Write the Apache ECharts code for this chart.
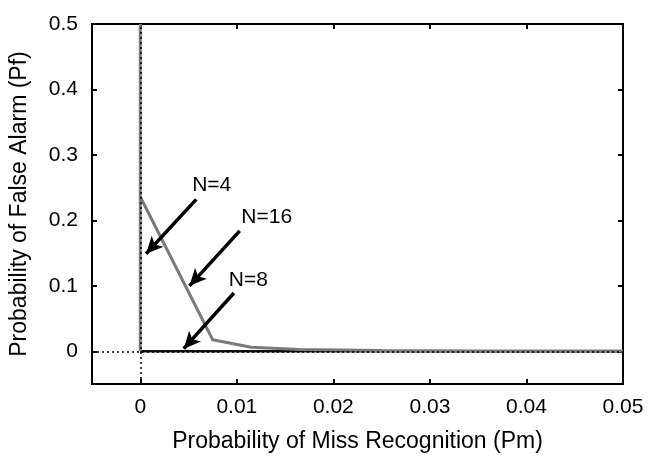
<!DOCTYPE html>
<html><head><meta charset="utf-8">
<script src="https://cdn.jsdelivr.net/npm/echarts@6/dist/echarts.min.js"></script>
<style>html,body{margin:0;padding:0;background:#fff}#c{width:652px;height:458px}</style>
</head><body><div id="c"></div>
<script>
var xTicks = [0, 0.01, 0.02, 0.03, 0.04, 0.05];
var yTicks = [0, 0.1, 0.2, 0.3, 0.4, 0.5];
var n4 = [[0, 0], [0, 0.5]];
var n16 = [[0, 0.236], [0.0075, 0.0176], [0.0115, 0.006], [0.0165, 0.0027], [0.025, 0.0012], [0.035, 0.0006], [0.05, 0.0003]];
var n8 = [[0, 0], [0.05, 0]];
var labelNames = ['N=4', 'N=16', 'N=8'];
var labelAt = [[0.0074, 0.254], [0.0131, 0.205], [0.0112, 0.108]];
var arrowFrom = [[0.0058, 0.232], [0.0103, 0.184], [0.0097, 0.089]];
var arrowTo = [[0.0006, 0.149], [0.0051, 0.100], [0.0045, 0.004]];

var FONT = 'Liberation Sans, Arial, Helvetica, sans-serif';
var chart = echarts.init(document.getElementById('c'));
function fmt(v){ return String(+v.toFixed(3)); }
var axisCommon = {
  axisLine: {show: true, onZero: false, lineStyle: {color: '#000', width: 2}},
  splitLine: {show: false}
};
var arrows = arrowFrom.map(function(f, i){ return [{coord: f}, {coord: arrowTo[i]}]; });
chart.setOption({
  animation: false,
  grid: {left: 91, right: 29, top: 24, bottom: 69, show: true, borderColor: '#000', borderWidth: 2},
  xAxis: [
    Object.assign({}, axisCommon, {
      type: 'value', min: -0.005, max: 0.05, position: 'bottom',
      name: 'Probability of Miss Recognition (Pm)', nameLocation: 'middle', nameGap: 46,
      nameTextStyle: {fontFamily: FONT, fontSize: 23, color: '#000'},
      axisTick: {show: true, inside: true, length: 5, customValues: xTicks, lineStyle: {color: '#000', width: 2}},
      axisLabel: {show: true, customValues: xTicks, formatter: fmt, margin: 13, fontFamily: FONT, fontSize: 21, color: '#000'}
    }),
    Object.assign({}, axisCommon, {
      type: 'value', min: -0.005, max: 0.05, position: 'top',
      axisTick: {show: true, inside: true, length: 5, customValues: xTicks, lineStyle: {color: '#000', width: 2}},
      axisLabel: {show: false}
    })
  ],
  yAxis: [
    Object.assign({}, axisCommon, {
      type: 'value', min: -0.05, max: 0.5, position: 'left',
      name: 'Probability of False Alarm (Pf)', nameLocation: 'middle', nameGap: 61,
      nameTextStyle: {fontFamily: FONT, fontSize: 23, color: '#000'},
      axisTick: {show: true, inside: true, length: 5, customValues: yTicks, lineStyle: {color: '#000', width: 2}},
      axisLabel: {show: true, customValues: yTicks, formatter: fmt, margin: 14, fontFamily: FONT, fontSize: 21, color: '#000'}
    }),
    Object.assign({}, axisCommon, {
      type: 'value', min: -0.05, max: 0.5, position: 'right',
      axisTick: {show: true, inside: true, length: 5, customValues: yTicks, lineStyle: {color: '#000', width: 2}},
      axisLabel: {show: false}
    })
  ],
  series: [
    {type: 'line', data: [], z: 1, silent: true,
     markLine: {silent: true, symbol: ['none', 'none'], label: {show: false},
       lineStyle: {color: '#000', type: [2, 3], width: 1.5},
       data: [{xAxis: 0}, {yAxis: 0}]}},
    {type: 'line', name: 'N=8', data: n8, showSymbol: false, z: 3, lineStyle: {color: '#111', width: 2.5}},
    {type: 'line', name: 'N=4', data: n4, showSymbol: false, z: 4, lineStyle: {color: '#7a7a7a', width: 3}},
    {type: 'line', name: 'N=16', data: n16, showSymbol: false, z: 4, lineStyle: {color: '#7a7a7a', width: 3}},
    {type: 'scatter', data: labelAt.map(function(p, i){ return {value: p, name: labelNames[i]}; }),
     symbolSize: 0, z: 6, silent: true, itemStyle: {opacity: 1, color: '#000'},
     label: {show: true, position: 'inside', formatter: function(p){ return p.name; },
       fontFamily: FONT, fontSize: 21, color: '#000', opacity: 1, textBorderWidth: 0},
     markLine: {silent: true, symbol: ['none', 'arrow'], symbolSize: [12, 17], label: {show: false},
       lineStyle: {color: '#000', type: 'solid', width: 3.5, opacity: 1}, data: arrows}}
  ]
});
</script></body></html>
